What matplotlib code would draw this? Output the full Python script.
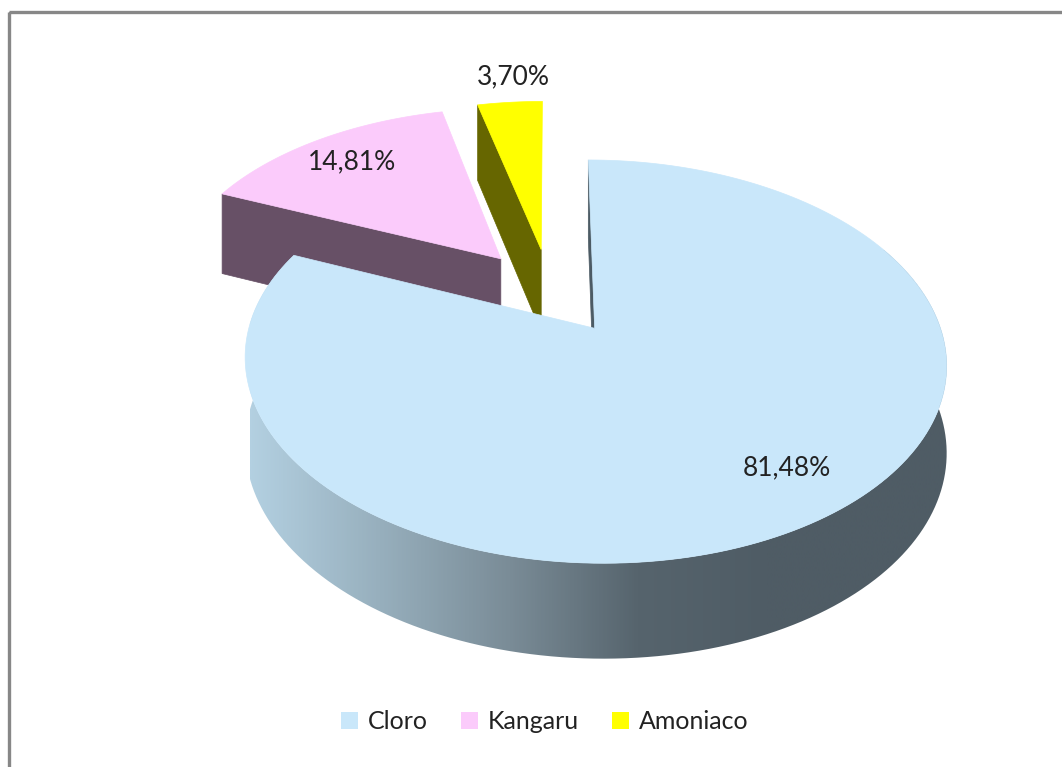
import numpy as np
import matplotlib.pyplot as plt
from matplotlib.patches import Polygon, Rectangle
from matplotlib.colors import LinearSegmentedColormap

# datos del grafico
labels = ["Cloro", "Kangaru", "Amoniaco"]
values = [81.48, 14.81, 3.70]
value_text = ["81,48%", "14,81%", "3,70%"]
top_colors = ["#C9E7FA", "#FBCBFB", "#FFFF00"]
side_colors = ["#4C5B64", "#675066", "#666600"]

# geometria del "pastel 3D" (en pixeles)
CX, CY = 550, 291
RX, RY = 335, 184
K = 0.16          # perspectiva
DEPTH = 84
EXPLODE = 0.235
label_r = [0.8, 0.8, 1.2]
label_da = [-4, 0, 1.5]   # grados

plt.rcParams["font.family"] = ["Lato", "DejaVu Sans"]


def proj(u, v, z=0.0):
    s = 1.0 / (1.0 + K * np.asarray(v))
    return CX + RX * np.asarray(u) * s, CY - RY * np.asarray(v) * s + DEPTH * z * s ** 0.6


fig = plt.figure(figsize=(10.62, 7.67), dpi=100)
ax = fig.add_axes([0, 0, 1, 1])
ax.axis("off")

total = sum(values)
fracs = [v / total for v in values]
starts = np.cumsum([0] + fracs[:-1]) * 2 * np.pi
ends = starts + np.array(fracs) * 2 * np.pi

slices = []
for i in range(len(values)):
    a0, a1 = starts[i], ends[i]
    mid = (a0 + a1) / 2
    ou, ov = EXPLODE * np.sin(mid), EXPLODE * np.cos(mid)
    th = np.linspace(a0, a1, 200)
    slices.append(dict(a0=a0, a1=a1, mid=mid, ou=ou, ov=ov, th=th))


def radial_face(sl, a, color, z=1):
    u = [sl["ou"], sl["ou"] + np.sin(a), sl["ou"] + np.sin(a), sl["ou"]]
    v = [sl["ov"], sl["ov"] + np.cos(a), sl["ov"] + np.cos(a), sl["ov"]]
    zz = [0, 0, 1, 1]
    pts = [proj(uu, vv, q) for uu, vv, q in zip(u, v, zz)]
    ax.add_patch(Polygon([(float(p[0]), float(p[1])) for p in pts], closed=True,
                         facecolor=color, edgecolor=color, lw=0.5, zorder=z))


def top_face(sl, color, z=2):
    u = np.concatenate([[sl["ou"]], sl["ou"] + np.sin(sl["th"])])
    v = np.concatenate([[sl["ov"]], sl["ov"] + np.cos(sl["th"])])
    x, y = proj(u, v)
    ax.add_patch(Polygon(np.column_stack([x, y]), closed=True,
                         facecolor=color, edgecolor=color, lw=0.5, zorder=z))


# Kangaru y Amoniaco (detras)
radial_face(slices[1], slices[1]["a0"], side_colors[1], z=1)
top_face(slices[1], top_colors[1], z=2)
radial_face(slices[2], slices[2]["a0"], side_colors[2], z=1)
top_face(slices[2], top_colors[2], z=2)

# Cloro: pared exterior con degradado
sl = slices[0]
u = sl["ou"] + np.sin(sl["th"])
v = sl["ov"] + np.cos(sl["th"])
xt, yt = proj(u, v, 0)
xb, yb = proj(u, v, 1)
wall = Polygon(np.column_stack([np.concatenate([xt, xb[::-1]]),
                                np.concatenate([yt, yb[::-1]])]),
               closed=True, facecolor="none", edgecolor="none", zorder=3)
ax.add_patch(wall)
grad_cmap = LinearSegmentedColormap.from_list(
    "wall", ["#B3D0E1", "#97AFBD", "#7A8C97", "#56646D", "#4F5C65"])
gx = np.linspace(0, 1, 512)
gx = np.clip(gx * 1.35, 0, 1)
im = ax.imshow(gx[None, :], cmap=grad_cmap, aspect="auto",
               extent=(250, 950, 700, 250), zorder=3, interpolation="bilinear")
im.set_clip_path(wall)
radial_face(sl, sl["a0"], side_colors[0], z=4)
top_face(sl, top_colors[0], z=5)

# etiquetas de datos
for i, s in enumerate(slices):
    a = s["mid"] + np.radians(label_da[i])
    lu = s["ou"] + label_r[i] * np.sin(a)
    lv = s["ov"] + label_r[i] * np.cos(a)
    lx, ly = proj(lu, lv)
    ax.text(float(lx), float(ly), value_text[i], ha="center", va="center",
            fontsize=19, color="#222222", zorder=10)

# borde del grafico
ax.add_patch(Rectangle((9, 12), 1200, 900, fill=False, edgecolor="#878787",
                       lw=2.4, zorder=0))

ax.set_xlim(0, 1062)
ax.set_ylim(767, 0)

handles = [Rectangle((0, 0), 1, 1, facecolor=c, edgecolor="none") for c in top_colors]
fig.legend(handles, labels, loc="center", bbox_to_anchor=(0.513, 0.059),
           ncol=3, frameon=False, fontsize=18, handlelength=0.7,
           handleheight=0.7, handletextpad=0.4, columnspacing=1.3,
           labelcolor="#222222")

fig.savefig("out.png", dpi=100)
